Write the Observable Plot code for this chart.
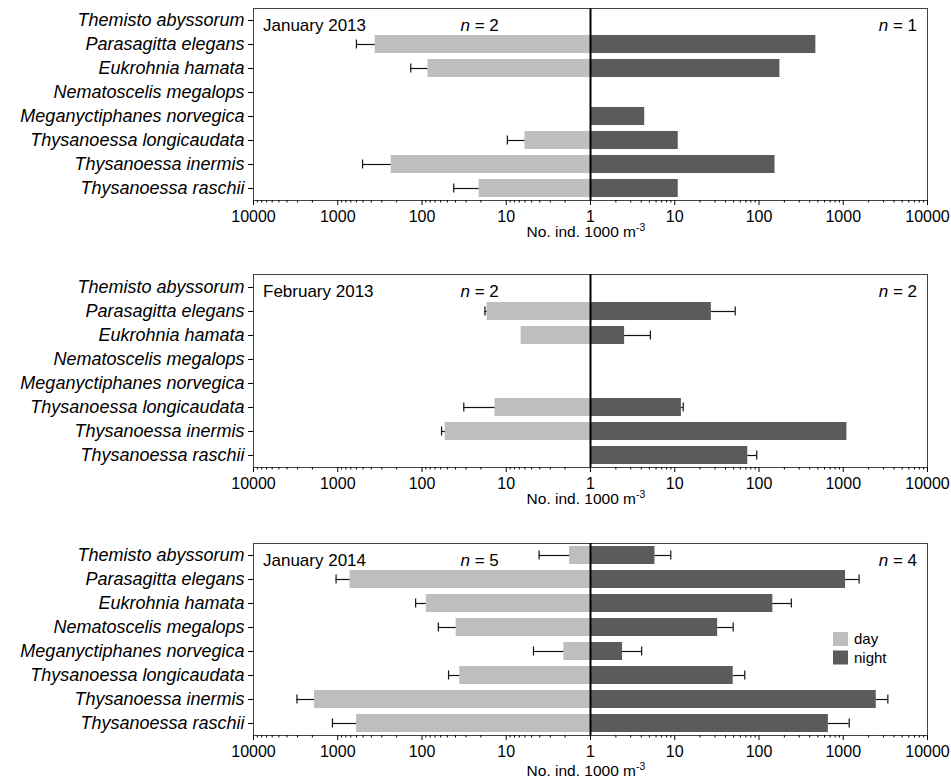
<!DOCTYPE html>
<html><head><meta charset="utf-8">
<script src="https://cdn.jsdelivr.net/npm/d3@7"></script>
<script src="https://cdn.jsdelivr.net/npm/@observablehq/plot@0.6"></script>
<style>body{margin:0;background:#fff} svg{display:block}</style>
</head><body><div id="chart"></div><script>
// ---- data ----
const species = ["Themisto abyssorum", "Parasagitta elegans", "Eukrohnia hamata", "Nematoscelis megalops",
  "Meganyctiphanes norvegica", "Thysanoessa longicaudata", "Thysanoessa inermis", "Thysanoessa raschii"];
const panelTitles = ["January 2013", "February 2013", "January 2014"];
const nDay = [2, 2, 5];
const nNight = [1, 2, 4];
const legendLabels = ["day", "night"];
const axisTitle = "No. ind. 1000 m";
const axisTitleSup = "-3";

// means and standard errors (ind. 1000 m^-3), null = absent
const jan2013Day     = [null, 360, 85, null, null, 6.0, 232, 21];
const jan2013DaySE   = [null, 240, 51, null, null, 3.7, 276, 21];
const jan2013Night   = [null, 473, 177, null, 4.4, 11, 155, 11];
const jan2013NightSE = [null, null, null, null, null, null, null, null];

const feb2013Day     = [null, 16.9, 6.65, null, null, 13.6, 53, null];
const feb2013DaySE   = [null, 1.0, null, null, null, 18.3, 5.6, null];
const feb2013Night   = [null, 27.2, 2.54, null, null, 12.0, 1105, 73.6];
const feb2013NightSE = [null, 25, 2.6, null, null, 0.6, null, 20.4];

const jan2014Day     = [1.77, 715, 89, 39.3, 2.07, 35.6, 1888, 597];
const jan2014DaySE   = [2.3, 332, 30, 24.7, 2.68, 12.8, 1162, 559];
const jan2014Night   = [5.82, 1065, 146, 32.3, 2.4, 49.4, 2466, 666];
const jan2014NightSE = [3.15, 478, 96, 17.1, 1.65, 18.4, 917, 511];

const majorTicks = [-4, -3, -2, -1, 0, 1, 2, 3, 4];
const minorMultipliers = [2, 3, 4, 5, 6, 7, 8, 9];

// ---- build ----
const panels = [
  {title: panelTitles[0], nd: nDay[0], nn: nNight[0], day: jan2013Day, daySE: jan2013DaySE, night: jan2013Night, nightSE: jan2013NightSE,
   height: 266, mt: 8, mb: 66, titleGap: 37},
  {title: panelTitles[1], nd: nDay[1], nn: nNight[1], day: feb2013Day, daySE: feb2013DaySE, night: feb2013Night, nightSE: feb2013NightSE,
   height: 268, mt: 8, mb: 67, titleGap: 37},
  {title: panelTitles[2], nd: nDay[2], nn: nNight[2], day: jan2014Day, daySE: jan2014DaySE, night: jan2014Night, nightSE: jan2014NightSE,
   height: 248, mt: 9, mb: 47, titleGap: 41, legend: true}
];

const minorTicks = [];
for (let d = 0; d < 4; d++) for (const k of minorMultipliers) {
  const v = d + Math.log10(k);
  minorTicks.push(v, -v);
}

const font = "'Liberation Sans', Arial, Helvetica, sans-serif";

function makePanel(p) {
  const bars = [], errs = [];
  species.forEach((sp, j) => {
    for (const [side, means, ses, sign] of [["day", p.day, p.daySE, -1], ["night", p.night, p.nightSE, 1]]) {
      const m = means[j];
      if (m == null) continue;
      const v = sign * Math.log10(m);
      bars.push({species: sp, side, v});
      const se = ses[j];
      if (se != null) errs.push({species: sp, side, v, e: sign * Math.log10(m + se)});
    }
  });
  const plot = Plot.plot({
    width: 951, height: p.height,
    marginLeft: 253, marginRight: 24, marginTop: p.mt, marginBottom: p.mb,
    style: {fontFamily: font, fontSize: "16px", color: "black", background: "white", overflow: "visible"},
    x: {domain: [-4, 4]},
    y: {domain: species, paddingInner: 0.27, paddingOuter: 0.135},
    color: {domain: legendLabels, range: ["#bebebe", "#5b5b5b"]},
    marks: [
      Plot.barX(bars, {x1: 0, x2: "v", y: "species", fill: "side"}),
      Plot.ruleY(errs, {x1: "v", x2: "e", y: "species", stroke: "#111", strokeWidth: 1.2}),
      Plot.tickX(errs, {x: "e", y: "species", stroke: "#111", strokeWidth: 1.2, insetTop: 4.5, insetBottom: 4.5}),
      Plot.frame({stroke: "#444", strokeWidth: 1}),
      Plot.ruleX([0], {stroke: "black", strokeWidth: 2}),
      Plot.axisX(majorTicks, {tickSize: 5, tickPadding: 5, fontSize: 16, label: null,
        tickFormat: d => String(Math.round(10 ** Math.abs(d)))}),
      Plot.axisX(minorTicks, {tickSize: 2.5, tickFormat: () => "", label: null}),
      Plot.axisY({tickSize: 5, tickPadding: 4, fontSize: 18, fontStyle: "italic", label: null})
    ]
  });
  const svg = d3.select(plot);
  const xs = plot.scale("x");
  const top = p.mt, bottom = p.height - p.mb;
  const left = 253, right = 951 - 24;
  // panel title
  svg.append("text").attr("x", left + 10).attr("y", top + 23).attr("text-anchor", "start")
    .attr("font-size", 17).attr("fill", "black").text(p.title);
  // n labels
  const nl = svg.append("text").attr("x", xs.apply(-1.31)).attr("y", top + 23)
    .attr("font-size", 17).attr("text-anchor", "middle").attr("fill", "black");
  nl.append("tspan").attr("font-style", "italic").text("n");
  nl.append("tspan").text(" = " + p.nd);
  const nr = svg.append("text").attr("x", right - 10).attr("y", top + 23)
    .attr("font-size", 17).attr("text-anchor", "end").attr("fill", "black");
  nr.append("tspan").attr("font-style", "italic").text("n");
  nr.append("tspan").text(" = " + p.nn);
  // axis title
  const at = svg.append("text").attr("x", xs.apply(0) - 4).attr("y", bottom + p.titleGap)
    .attr("font-size", 15.5).attr("text-anchor", "middle").attr("fill", "black");
  at.append("tspan").text(axisTitle);
  at.append("tspan").attr("font-size", 10.5).attr("dy", -6).text(axisTitleSup);
  // legend
  if (p.legend) {
    const cs = plot.scale("color");
    legendLabels.forEach((lab, k) => {
      const y0 = top + 89 + k * 18.5;
      svg.append("rect").attr("x", 833).attr("y", y0).attr("width", 15).attr("height", 14)
        .attr("fill", cs.apply(lab));
      svg.append("text").attr("x", 854).attr("y", y0 + 12).attr("font-size", 15).attr("text-anchor", "start")
        .attr("fill", "black").text(lab);
    });
  }
  return plot;
}

const container = document.getElementById("chart");
for (const p of panels) container.appendChild(makePanel(p));
</script></body></html>
